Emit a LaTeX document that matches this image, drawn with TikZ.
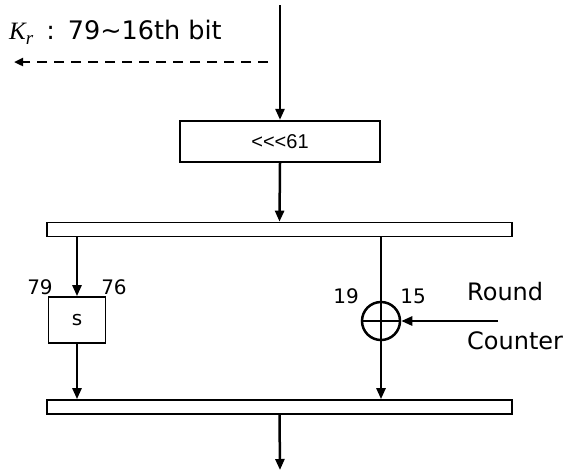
\documentclass[tikz,border=0pt]{standalone}
\usepackage{fontspec}
\setmainfont{DejaVu Sans}
\newfontfamily\plainfont{Liberation Sans}
\newfontfamily\serifit{Liberation Serif Italic}
\usetikzlibrary{arrows.meta}
\begin{document}
\begin{tikzpicture}[x=1pt,y=-1pt,
  conn/.style={line width=2.5pt,-{Triangle[length=11pt,width=9pt]}},
  boxstyle/.style={draw,line width=2.3pt,inner sep=0pt},
  barstyle/.style={draw,line width=1.7pt,inner sep=0pt,minimum width=465pt,minimum height=14pt},
  lbl/.style={font=\fontsize{20}{22}\selectfont,inner sep=0pt},
  big/.style={font=\fontsize{24}{26}\selectfont,inner sep=0pt}]
\useasboundingbox (0,0) rectangle (570,475);
\coordinate (top) at (280,5);
\coordinate (bot) at (280,470);
\coordinate (rc) at (498,321);
\coordinate (ks) at (268,62);
\coordinate (ke) at (14,62);
\node[boxstyle,minimum width=200pt,minimum height=41pt,font=\plainfont\fontsize{20}{22}\selectfont] (rot) at (280,141.5) {<<<61};
\node[barstyle] (bar1) at (279.5,229.5) {};
\node[barstyle] (bar2) at (279.5,407) {};
\node[draw,line width=1.7pt,minimum width=57pt,minimum height=46pt,inner sep=0pt,font=\fontsize{20}{22}\selectfont] (sbox) at (77,320) {s};
\node[draw,circle,line width=2.5pt,minimum size=38pt,inner sep=0pt] (xor) at (381,321) {};
\draw[line width=2.5pt] (xor.west) -- (xor.east);
\draw[conn] (top) -- (rot.north);
\draw[conn] (rot.south) -- (bar1.north);
\draw[conn] (bar1.south -| sbox) -- (sbox.north);
\draw[conn] (sbox.south) -- (bar2.north -| sbox);
\draw[line width=2.5pt] (bar1.south -| xor) -- (xor.north);
\draw[conn] (xor.north) -- (bar2.north -| xor);
\draw[conn] (rc) -- (xor.east);
\draw[conn] (bar2.south) -- (bot);
\draw[line width=2.5pt,dash pattern=on 10pt off 7pt,-{Triangle[length=9pt,width=8pt]}] (ks) -- (ke);
\node[lbl] (l79) at (40,287) {79};
\node[lbl] (l76) at (114,287) {76};
\node[lbl] (l19) at (346,296) {19};
\node[lbl] (l15) at (413,296) {15};
\node[big,anchor=west] (round) at (467,292) {Round};
\node[big,anchor=west] (counter) at (467,341) {Counter};
\node[big,anchor=base west,font=\fontsize{25.5}{27}\selectfont] (kr) at (9,39) {{\serifit\fontsize{25}{26}\selectfont K}\raisebox{-5pt}{\serifit\fontsize{19}{20}\selectfont r}\hspace{13pt}:\hspace{13pt}79\textasciitilde16th bit};
\end{tikzpicture}
\end{document}
